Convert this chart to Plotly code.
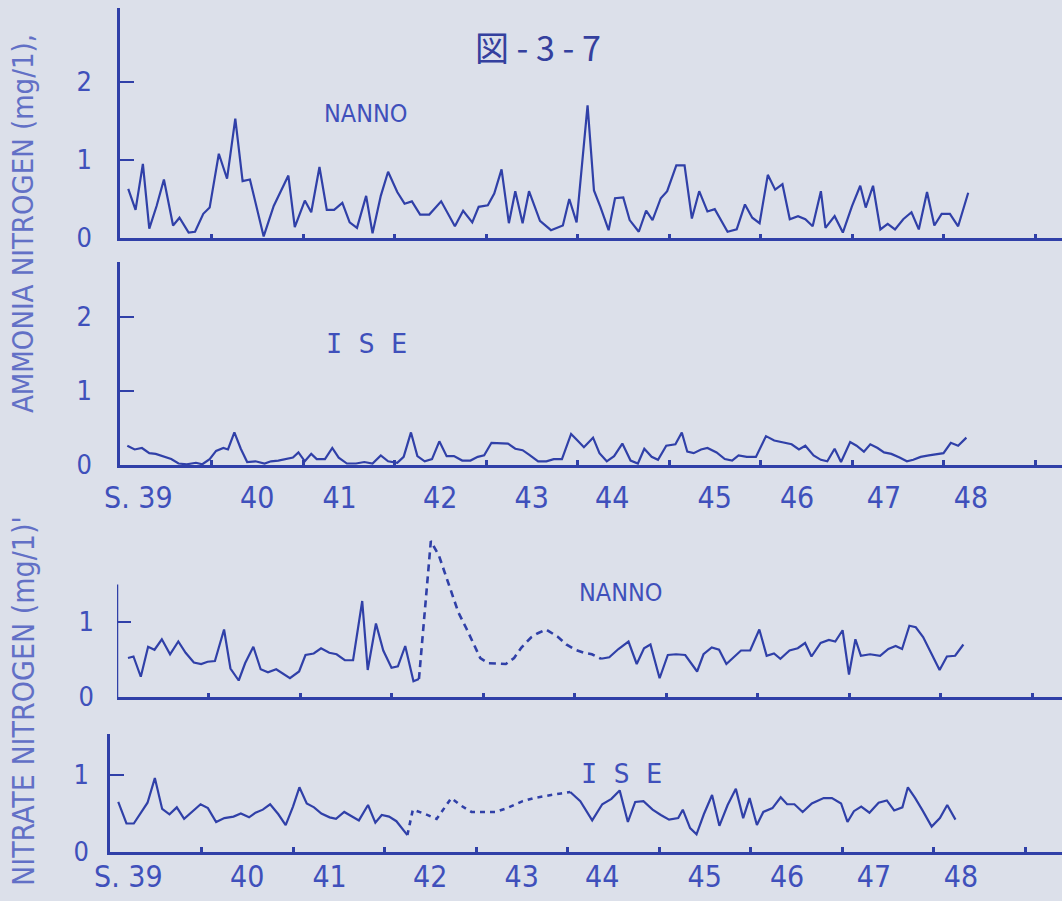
import plotly.graph_objects as go

# ---------------- data (years counted from the start of S.39) ----------------
nh4_nanno_t = [0.09, 0.17, 0.25, 0.32, 0.40, 0.48, 0.58, 0.65, 0.75, 0.82, 0.91, 0.98,
               1.08, 1.17, 1.26, 1.34, 1.42, 1.57, 1.68, 1.84, 1.91, 2.02, 2.09, 2.18,
               2.26, 2.34, 2.43, 2.51, 2.59, 2.69, 2.76, 2.85, 2.93, 3.03, 3.11, 3.19,
               3.28, 3.38, 3.51, 3.66, 3.75, 3.85, 3.92, 4.02, 4.09, 4.17, 4.25, 4.32,
               4.40, 4.47, 4.59, 4.71, 4.84, 4.91, 4.99, 5.11, 5.18, 5.25, 5.34, 5.41,
               5.50, 5.57, 5.67, 5.75, 5.82, 5.91, 5.98, 6.08, 6.17, 6.25, 6.33, 6.42,
               6.50, 6.64, 6.74, 6.83, 6.91, 6.99, 7.08, 7.16, 7.24, 7.32, 7.41, 7.49,
               7.57, 7.66, 7.71, 7.81, 7.90, 8.00, 8.09, 8.15, 8.23, 8.31, 8.39, 8.47,
               8.56, 8.65, 8.73, 8.82, 8.90, 8.98, 9.07, 9.16, 9.27]
nh4_nanno_v = [0.63, 0.36, 0.95, 0.12, 0.41, 0.75, 0.16, 0.26, 0.07, 0.08, 0.31, 0.39,
               1.08, 0.76, 1.53, 0.73, 0.75, 0.02, 0.41, 0.80, 0.14, 0.48, 0.33, 0.91,
               0.36, 0.36, 0.45, 0.20, 0.13, 0.54, 0.06, 0.54, 0.85, 0.59, 0.44, 0.47,
               0.30, 0.30, 0.47, 0.15, 0.35, 0.20, 0.40, 0.42, 0.57, 0.88, 0.19, 0.60,
               0.19, 0.60, 0.22, 0.10, 0.16, 0.50, 0.20, 1.70, 0.61, 0.40, 0.10, 0.51,
               0.52, 0.23, 0.08, 0.35, 0.23, 0.51, 0.60, 0.93, 0.93, 0.25, 0.60, 0.34,
               0.37, 0.08, 0.11, 0.43, 0.26, 0.19, 0.81, 0.62, 0.69, 0.24, 0.28, 0.24,
               0.15, 0.60, 0.13, 0.28, 0.07, 0.41, 0.67, 0.39, 0.67, 0.11, 0.18, 0.11,
               0.24, 0.33, 0.11, 0.59, 0.16, 0.31, 0.31, 0.15, 0.58]

nh4_ise_t = [0.08, 0.16, 0.24, 0.32, 0.39, 0.47, 0.56, 0.64, 0.73, 0.83, 0.90, 0.98,
             1.05, 1.13, 1.18, 1.25, 1.32, 1.39, 1.48, 1.58, 1.65, 1.73, 1.80, 1.89,
             1.95, 2.02, 2.09, 2.15, 2.24, 2.32, 2.39, 2.48, 2.58, 2.67, 2.76, 2.85,
             2.93, 3.03, 3.10, 3.18, 3.25, 3.33, 3.41, 3.49, 3.57, 3.65, 3.74, 3.83,
             3.91, 3.98, 4.06, 4.15, 4.24, 4.32, 4.40, 4.47, 4.57, 4.66, 4.74, 4.83,
             4.93, 5.00, 5.07, 5.17, 5.24, 5.32, 5.40, 5.49, 5.58, 5.66, 5.73, 5.81,
             5.88, 5.97, 6.07, 6.14, 6.20, 6.27, 6.35, 6.42, 6.52, 6.61, 6.69, 6.76,
             6.85, 6.95, 7.06, 7.15, 7.25, 7.34, 7.42, 7.49, 7.58, 7.66, 7.73, 7.81,
             7.88, 7.98, 8.05, 8.13, 8.20, 8.28, 8.35, 8.43, 8.52, 8.60, 8.67, 8.75,
             8.84, 8.91, 9.00, 9.08, 9.16, 9.25]
nh4_ise_v = [0.26, 0.21, 0.23, 0.16, 0.15, 0.12, 0.08, 0.02, 0.01, 0.03, 0.01, 0.08,
             0.19, 0.23, 0.21, 0.44, 0.22, 0.04, 0.05, 0.02, 0.05, 0.06, 0.08, 0.10,
             0.17, 0.05, 0.15, 0.08, 0.08, 0.23, 0.10, 0.02, 0.02, 0.04, 0.02, 0.13,
             0.05, 0.03, 0.11, 0.44, 0.12, 0.05, 0.08, 0.32, 0.12, 0.12, 0.06, 0.06,
             0.11, 0.13, 0.30, 0.29, 0.29, 0.22, 0.20, 0.14, 0.05, 0.05, 0.08, 0.08,
             0.42, 0.33, 0.24, 0.37, 0.16, 0.05, 0.12, 0.29, 0.06, 0.02, 0.22, 0.11,
             0.07, 0.26, 0.28, 0.44, 0.18, 0.16, 0.21, 0.23, 0.17, 0.08, 0.06, 0.13,
             0.11, 0.11, 0.39, 0.33, 0.30, 0.28, 0.21, 0.26, 0.13, 0.07, 0.05, 0.22,
             0.04, 0.31, 0.26, 0.18, 0.28, 0.23, 0.17, 0.15, 0.10, 0.05, 0.07, 0.11,
             0.13, 0.14, 0.16, 0.30, 0.26, 0.37]

no3_nanno_t1 = [0.12, 0.18, 0.26, 0.34, 0.41, 0.49, 0.58, 0.67, 0.75, 0.84, 0.92, 0.99,
                1.07, 1.17, 1.24, 1.33, 1.40, 1.49, 1.57, 1.65, 1.74, 1.82, 1.89, 1.99,
                2.06, 2.15, 2.23, 2.32, 2.40, 2.49, 2.58, 2.68, 2.74, 2.83, 2.91, 3.00,
                3.07, 3.15, 3.24, 3.30]
no3_nanno_v1 = [0.52, 0.54, 0.27, 0.67, 0.63, 0.77, 0.57, 0.74, 0.59, 0.46, 0.44, 0.47,
                0.48, 0.90, 0.38, 0.22, 0.45, 0.67, 0.37, 0.33, 0.37, 0.31, 0.25, 0.34,
                0.56, 0.58, 0.65, 0.59, 0.57, 0.49, 0.49, 1.28, 0.36, 0.98, 0.62, 0.39,
                0.41, 0.68, 0.21, 0.24]
no3_nanno_t2 = [3.30, 3.43, 3.52, 3.63, 3.73, 3.82, 3.97, 4.06, 4.16, 4.25, 4.34, 4.42,
                4.53, 4.60, 4.69, 4.82, 4.91, 5.01, 5.10, 5.19, 5.29]
no3_nanno_v2 = [0.24, 2.08, 1.88, 1.48, 1.13, 0.91, 0.52, 0.45, 0.45, 0.44, 0.52, 0.66,
                0.80, 0.85, 0.90, 0.80, 0.70, 0.63, 0.59, 0.57, 0.51]
no3_nanno_t3 = [5.29, 5.38, 5.48, 5.59, 5.68, 5.76, 5.83, 5.93, 6.02, 6.11, 6.21, 6.34,
                6.41, 6.50, 6.58, 6.66, 6.74, 6.82, 6.92, 7.02, 7.10, 7.18, 7.25, 7.35,
                7.44, 7.52, 7.59, 7.69, 7.78, 7.85, 7.93, 8.00, 8.07, 8.13, 8.23, 8.34,
                8.43, 8.51, 8.58, 8.66, 8.73, 8.81, 8.90, 8.99, 9.07, 9.16, 9.25]
no3_nanno_v3 = [0.51, 0.53, 0.64, 0.74, 0.44, 0.65, 0.70, 0.25, 0.56, 0.57, 0.56, 0.34,
                0.57, 0.66, 0.63, 0.44, 0.53, 0.62, 0.62, 0.90, 0.55, 0.58, 0.51, 0.62,
                0.65, 0.72, 0.54, 0.72, 0.76, 0.74, 0.89, 0.30, 0.77, 0.55, 0.57, 0.55,
                0.64, 0.68, 0.64, 0.95, 0.93, 0.80, 0.58, 0.36, 0.54, 0.55, 0.70]

no3_ise_t1 = [0.09, 0.18, 0.26, 0.34, 0.41, 0.49, 0.57, 0.65, 0.73, 0.81, 0.90, 0.99,
              1.07, 1.16, 1.25, 1.35, 1.43, 1.52, 1.59, 1.67, 1.75, 1.84, 1.92, 2.00,
              2.07, 2.15, 2.23, 2.31, 2.40, 2.47, 2.56, 2.64, 2.72, 2.82, 2.90, 2.97,
              3.05, 3.13, 3.21, 3.25]
no3_ise_v1 = [0.65, 0.37, 0.37, 0.51, 0.64, 0.96, 0.56, 0.49, 0.58, 0.43, 0.52, 0.62,
              0.57, 0.39, 0.44, 0.46, 0.50, 0.45, 0.51, 0.55, 0.62, 0.49, 0.35, 0.59,
              0.84, 0.63, 0.58, 0.50, 0.45, 0.43, 0.52, 0.46, 0.41, 0.61, 0.38, 0.48,
              0.46, 0.40, 0.27, 0.22]
no3_ise_t2 = [3.25, 3.31, 3.43, 3.57, 3.73, 3.84, 3.95, 4.10, 4.21, 4.34, 4.51, 4.63,
              4.75, 4.82, 4.93, 5.03]
no3_ise_v2 = [0.22, 0.55, 0.50, 0.43, 0.70, 0.60, 0.52, 0.52, 0.52, 0.57, 0.66, 0.70,
              0.72, 0.74, 0.76, 0.78]
no3_ise_t3 = [5.03, 5.14, 5.27, 5.38, 5.48, 5.57, 5.66, 5.74, 5.83, 5.93, 6.02, 6.11,
              6.21, 6.26, 6.34, 6.41, 6.49, 6.58, 6.66, 6.75, 6.84, 6.92, 6.99, 7.07,
              7.14, 7.24, 7.33, 7.40, 7.48, 7.57, 7.67, 7.80, 7.89, 7.99, 8.06, 8.13,
              8.21, 8.30, 8.40, 8.49, 8.57, 8.66, 8.72, 8.80, 8.88, 8.98, 9.07, 9.15,
              9.24]
no3_ise_v3 = [0.78, 0.66, 0.41, 0.62, 0.69, 0.80, 0.39, 0.65, 0.66, 0.55, 0.48, 0.42,
              0.44, 0.55, 0.31, 0.23, 0.49, 0.74, 0.34, 0.61, 0.82, 0.44, 0.70, 0.35,
              0.52, 0.57, 0.71, 0.62, 0.62, 0.52, 0.63, 0.70, 0.70, 0.63, 0.39, 0.53,
              0.59, 0.51, 0.64, 0.67, 0.54, 0.58, 0.84, 0.70, 0.54, 0.33, 0.44, 0.61,
              0.42]

year_labels = ["S. 39", "40", "41", "42", "43", "44", "45", "46", "47", "48"]
year_label_pos = [0.2, 1.5, 2.4, 3.5, 4.5, 5.38, 6.5, 7.4, 8.35, 9.3]
year_ticks = [1, 2, 3, 4, 5, 6, 7, 8, 9, 10]

# ---------------- styling ----------------
W, H = 1062, 901
BG = "#dce0ea"
INK = "#3040a8"
TXT = "#3f50bb"
LIGHT = "#6270c6"
FONT = "DejaVu Sans Condensed, Liberation Sans Narrow, Roboto, sans-serif"
MONO = "DejaVu Sans Mono, Liberation Mono, monospace"
PXY = 91.5  # pixels per year

# panel geometry in pixels: left axis x, zero line y, px per unit, top of axis,
# y tick values, y-label standoff, x-label standoff
panels = [
    dict(x0=120, zero=238, unit=78, top=8, yt=[0, 1, 2], ys=20, xs=0),
    dict(x0=120, zero=465, unit=74, top=262, yt=[0, 1, 2], ys=20, xs=4),
    dict(x0=117, zero=697, unit=75, top=532, yt=[0, 1], ys=22, xs=0),
    dict(x0=110, zero=852, unit=77, top=734, yt=[0, 1], ys=13, xs=-4),
]

fig = go.Figure()

def add_line(t, v, i, dash="solid"):
    fig.add_trace(go.Scatter(x=t, y=v, mode="lines",
                             line=dict(color=INK, width=2.2 if dash == "solid" else 2.6,
                                       dash=dash),
                             xaxis=f"x{i}", yaxis=f"y{i}", showlegend=False,
                             hoverinfo="skip"))

add_line(nh4_nanno_t, nh4_nanno_v, 1)
add_line(nh4_ise_t, nh4_ise_v, 2)
add_line(no3_nanno_t1, no3_nanno_v1, 3)
add_line(no3_nanno_t2, no3_nanno_v2, 3, dash="7px,5px")
add_line(no3_nanno_t3, no3_nanno_v3, 3)
add_line(no3_ise_t1, no3_ise_v1, 4)
add_line(no3_ise_t2, no3_ise_v2, 4, dash="5px,5px")
add_line(no3_ise_t3, no3_ise_v3, 4)

layout = dict(width=W, height=H, autosize=False,
              margin=dict(l=0, r=0, t=0, b=0, pad=0),
              paper_bgcolor=BG, plot_bgcolor=BG, showlegend=False,
              font=dict(family=FONT, color=TXT))

for i, p in enumerate(panels, start=1):
    sfx = "" if i == 1 else str(i)
    labelled = i in (2, 4)
    xa = dict(domain=[p["x0"] / W, 1.0], range=[0, (W - p["x0"]) / PXY],
              anchor=f"y{i}", showgrid=False, zeroline=False, automargin=False,
              showline=True, linecolor=INK, linewidth=2.5)
    if labelled:
        xa.update(tickmode="array", tickvals=year_label_pos, ticktext=year_labels,
                  ticks="", showticklabels=True,
                  tickfont=dict(family=FONT, size=30, color=TXT),
                  ticklabelstandoff=p["xs"],
                  minor=dict(tickmode="array", tickvals=year_ticks, ticks="inside",
                             ticklen=5, tickwidth=3, tickcolor=INK, showgrid=False))
    else:
        xa.update(tickmode="array", tickvals=year_ticks, ticks="inside", ticklen=4,
                  tickwidth=3, tickcolor=INK, showticklabels=False)
    ymax = (p["zero"] - p["top"]) / p["unit"]
    ya = dict(domain=[1 - p["zero"] / H, 1 - p["top"] / H], range=[0, ymax],
              anchor=f"x{i}", showgrid=False, zeroline=False, automargin=False,
              showline=(i != 3), linecolor=INK, linewidth=2.5,
              tickmode="array", tickvals=p["yt"], ticktext=[str(v) for v in p["yt"]],
              ticks="inside", ticklen=14, tickwidth=2, tickcolor=INK,
              tickfont=dict(family=FONT, size=27, color=TXT),
              ticklabelstandoff=p["ys"])
    layout[f"xaxis{sfx}"] = xa
    layout[f"yaxis{sfx}"] = ya

fig.update_layout(**layout)

# panel 3 vertical axis drawn only up to 1.5 so the dashed peak can rise above it
fig.add_shape(type="line", xref="x3", yref="y3", x0=0, x1=0, y0=0, y1=1.5,
              line=dict(color=INK, width=2.5))

def note(text, x, y, size, color=TXT, angle=0, family=FONT):
    fig.add_annotation(text=text, x=x / W, y=1 - y / H, xref="paper", yref="paper",
                       showarrow=False, textangle=angle,
                       font=dict(family=family, size=size, color=color),
                       xanchor="center", yanchor="middle")

note("図 - 3 - 7", 538, 46, 34, color="#34409e",
     family="Noto Sans CJK JP, sans-serif")
note("NANNO", 366, 113, 25)
note("I S E", 366, 344, 27, family=MONO)
note("NANNO", 621, 592, 25)
note("I S E", 621, 773, 27, family=MONO)
note("AMMONIA NITROGEN (mg/1),", 23, 224, 29, color=LIGHT, angle=-90)
note("NITRATE NITROGEN (mg/1)'", 23, 701, 30, color=LIGHT, angle=-90)

fig.write_html("out.html",
               config=dict(displayModeBar=False, responsive=False),
               post_script="document.body.style.margin='0';"
                           "document.body.style.overflow='hidden';")
